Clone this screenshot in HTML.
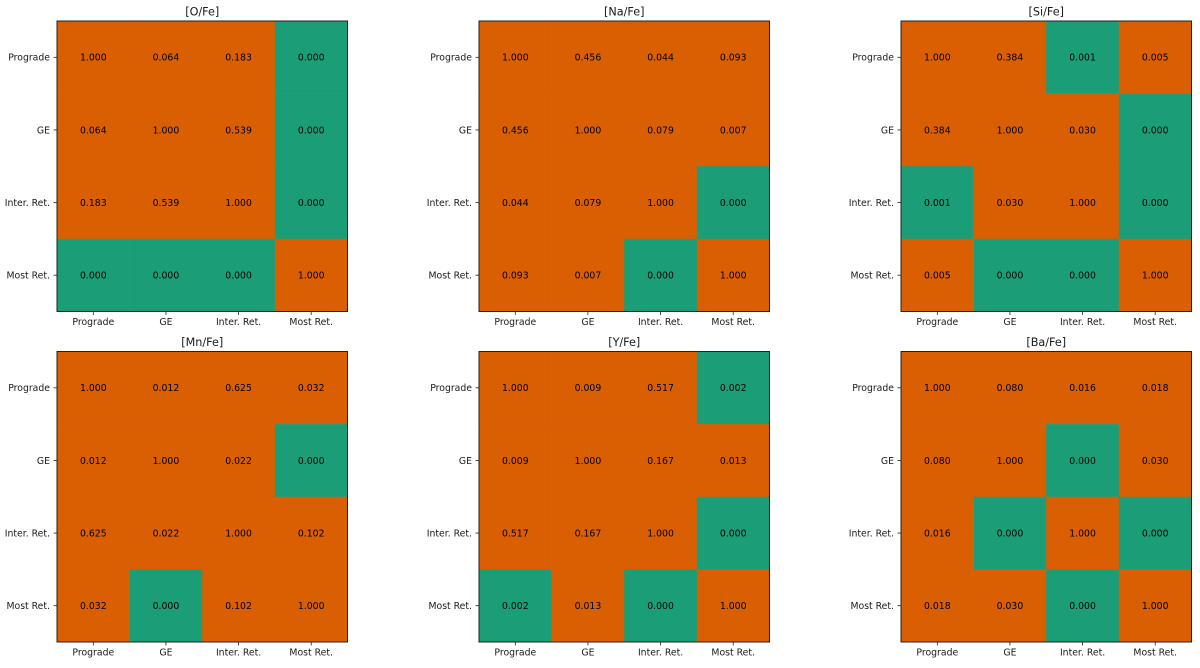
<!DOCTYPE html>
<html lang="en">
<head>
<meta charset="utf-8">
<title>Abundance comparison matrices</title>
<style>
html,body{margin:0;padding:0;background:#fff;width:1200px;height:668px;overflow:hidden}
svg{display:block}
text{font-family:"DejaVu Sans",sans-serif;fill:#1a1a1a}
</style>
</head>
<body>
<svg id="chart" width="1200" height="668" viewBox="0 0 1200 668" xmlns="http://www.w3.org/2000/svg"></svg>
<script>
const categories = ['Prograde', 'GE', 'Inter. Ret.', 'Most Ret.'];
const panelTitles = ['[O/Fe]', '[Na/Fe]', '[Si/Fe]', '[Mn/Fe]', '[Y/Fe]', '[Ba/Fe]'];
const oValues = [[1.000,0.064,0.183,0.000],[0.064,1.000,0.539,0.000],[0.183,0.539,1.000,0.000],[0.000,0.000,0.000,1.000]];
const naValues = [[1.000,0.456,0.044,0.093],[0.456,1.000,0.079,0.007],[0.044,0.079,1.000,0.000],[0.093,0.007,0.000,1.000]];
const siValues = [[1.000,0.384,0.001,0.005],[0.384,1.000,0.030,0.000],[0.001,0.030,1.000,0.000],[0.005,0.000,0.000,1.000]];
const mnValues = [[1.000,0.012,0.625,0.032],[0.012,1.000,0.022,0.000],[0.625,0.022,1.000,0.102],[0.032,0.000,0.102,1.000]];
const yValues = [[1.000,0.009,0.517,0.002],[0.009,1.000,0.167,0.013],[0.517,0.167,1.000,0.000],[0.002,0.013,0.000,1.000]];
const baValues = [[1.000,0.080,0.016,0.018],[0.080,1.000,0.000,0.030],[0.016,0.000,1.000,0.000],[0.018,0.030,0.000,1.000]];
const panelValues = [oValues, naValues, siValues, mnValues, yValues, baValues];
const significanceThreshold = 0.005;

const svg = document.getElementById('chart');
const NS = 'http://www.w3.org/2000/svg';
const colLefts = [57, 479, 901];
const rowTops = [21, 351.5];
const panelW = 290.5;
const panelH = 290.5;
const orange = '#d95f02';
const green = '#1b9e77';

function make(tag, attrs, parent) {
  const el = document.createElementNS(NS, tag);
  for (const k in attrs) el.setAttribute(k, attrs[k]);
  parent.appendChild(el);
  return el;
}
function slug(s) {
  return s.toLowerCase().replace(/[^a-z0-9]+/g, '-').replace(/^-|-$/g, '');
}

panelTitles.forEach((title, p) => {
  const left = colLefts[p % 3];
  const top = rowTops[Math.floor(p / 3)];
  const values = panelValues[p];
  const n = categories.length;
  const xScale = i => left + (i / n) * panelW;
  const yScale = i => top + (i / n) * panelH;
  const key = slug(title);

  const g = make('g', {}, svg);
  
  

  values.forEach((row, r) => {
    row.forEach((v, c) => {
      const cell = make('rect', {
        x: xScale(c), y: yScale(r),
        width: panelW / n + 0.3, height: panelH / n + 0.3,
        fill: v < significanceThreshold ? green : orange
      }, g);
      
      
    });
  });

  values.forEach((row, r) => {
    row.forEach((v, c) => {
      const label = make('text', {
        x: xScale(c + 0.5), y: yScale(r + 0.5) + 3.4,
        'text-anchor': 'middle', 'font-size': '9.3'
      }, g);
      label.style.fill = '#000';
      label.textContent = v.toFixed(3);
      
      
    });
  });

  const frame = make('rect', {
    x: left, y: top, width: panelW, height: panelH,
    fill: 'none', stroke: '#222', 'stroke-width': '1'
  }, g);
  
  

  categories.forEach((cat, i) => {
    const tx = xScale(i + 0.5);
    const bottom = top + panelH;
    const xTick = make('line', {x1: tx, x2: tx, y1: bottom, y2: bottom + 3.5, stroke: '#222', 'stroke-width': '0.8'}, g);
    
    
    const xLabel = make('text', {x: tx, y: bottom + 13.5, 'text-anchor': 'middle', 'font-size': '9.3'}, g);
    xLabel.textContent = cat;
    
    

    const ty = yScale(i + 0.5);
    const yTick = make('line', {x1: left - 3.5, x2: left, y1: ty, y2: ty, stroke: '#222', 'stroke-width': '0.8'}, g);
    
    
    const yLabel = make('text', {x: left - 7, y: ty + 3.4, 'text-anchor': 'end', 'font-size': '9.3'}, g);
    yLabel.textContent = cat;
    
    
  });

  const titleEl = make('text', {x: left + panelW / 2, y: top - 5.5, 'text-anchor': 'middle', 'font-size': '11.2'}, g);
  titleEl.textContent = title;
  
  
});
</script>
</body>
</html>
